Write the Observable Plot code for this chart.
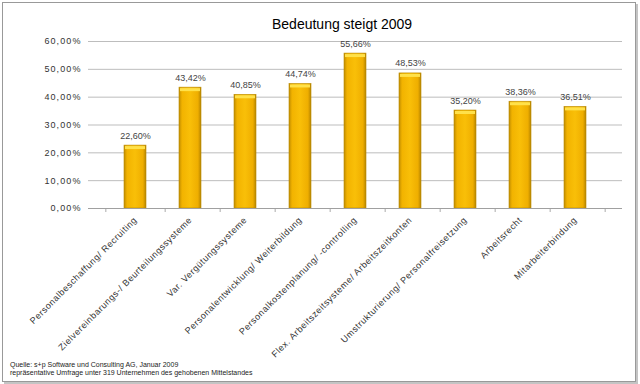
<!DOCTYPE html>
<html><head><meta charset="utf-8">
<script src="https://cdn.jsdelivr.net/npm/d3@7"></script>
<script src="https://cdn.jsdelivr.net/npm/@observablehq/plot@0.6"></script>
<style>
html,body{margin:0;padding:0;background:#fff;}
#wrap{position:relative;width:640px;height:384px;overflow:hidden;font-family:"Liberation Sans",Arial,sans-serif;}
#frame{position:absolute;left:2px;top:2px;width:632px;height:378px;border:1px solid #999;box-shadow:2px 2px 0 #c4c4c4;}
#title{position:absolute;left:272px;top:16px;font-size:14px;color:#000;white-space:nowrap;}
#cap{position:absolute;left:10px;top:361px;font-size:7px;line-height:8px;color:#222;}
#chart{position:absolute;left:0;top:0;}
g[aria-label="x-axis tick label"] text{letter-spacing:0.55px;}
g[aria-label="y-axis tick label"] text{letter-spacing:1.1px;}
</style></head><body>
<div id="wrap">
<div id="frame"></div>
<div id="chart"></div>
<div id="title">Bedeutung steigt 2009</div>
<div id="cap">Quelle: s+p Software und Consulting AG, Januar 2009<br>repräsentative Umfrage unter 319 Unternehmen des gehobenen Mittelstandes</div>
</div>
<script>
const categories = [
  "Personalbeschaffung/ Recruiting",
  "Zielvereinbarungs-/ Beurteilungssysteme",
  "Var. Vergütungssysteme",
  "Personalentwicklung/ Weiterbildung",
  "Personalkostenplanung/ -controlling",
  "Flex. Arbeitszeitsysteme/ Arbeitszeitkonten",
  "Umstrukturierung/ Personalfreisetzung",
  "Arbeitsrecht",
  "Mitarbeiterbindung"
];
const values = [0.2260, 0.4342, 0.4085, 0.4474, 0.5566, 0.4853, 0.3520, 0.3836, 0.3651];
const yTicks = [0, 0.1, 0.2, 0.3, 0.4, 0.5, 0.6];

const data = categories.map((c, i) => ({cat: c, v: values[i]}));
const pct = v => (v * 100).toFixed(2).replace(".", ",") + "%";

const W = 640, H = 384, mL = 88, mR = 18, mT = 41, mB = 176;
const step = (W - mL - mR) / categories.length;

const chart = Plot.plot({
  width: W, height: H,
  marginLeft: mL, marginRight: mR, marginTop: mT, marginBottom: mB,
  style: {fontFamily: "'Liberation Sans', Arial, sans-serif", fontSize: "9px", color: "#333", background: "transparent"},
  x: {domain: categories, padding: 0.6, align: 0.5, label: null, tickSize: 0, tickPadding: 10, tickRotate: -45},
  y: {domain: [0, 0.6], ticks: yTicks, tickFormat: pct, label: null, tickSize: 0, tickPadding: 7},
  marks: [
    Plot.gridY(yTicks, {stroke: "#bdbdbd", strokeOpacity: 1}),
    Plot.ruleX(categories, {x: d => d, y1: 0, y2: 0, dx: step / 2, stroke: "#aaa", insetBottom: -4}),
    Plot.ruleX(categories.slice(0, 1), {x: d => d, dx: -step / 2, y1: 0, y2: 0, stroke: "#aaa", insetBottom: -4}),
    Plot.barY(data, {x: "cat", y: "v", fill: "url(#barGrad)", stroke: "#b88a00", strokeWidth: 0.6}),
    Plot.tickY(data, {x: "cat", y: "v", stroke: "#ffe14a", strokeWidth: 3, dy: 2, inset: 1}),
    Plot.ruleY([0], {stroke: "#a0a0a0"}),
    Plot.text(data, {x: "cat", y: "v", text: d => pct(d.v), dy: -7, textAnchor: "middle", lineAnchor: "bottom", fill: "#444", fontSize: 9})
  ]
});

const defs = document.createElementNS("http://www.w3.org/2000/svg", "defs");
defs.innerHTML = `<linearGradient id="barGrad" x1="0" x2="1" y1="0" y2="0">
  <stop offset="0" stop-color="#c08c00"/>
  <stop offset="0.14" stop-color="#f2b300"/>
  <stop offset="0.5" stop-color="#f9bf08"/>
  <stop offset="0.86" stop-color="#efae00"/>
  <stop offset="1" stop-color="#b58400"/>
</linearGradient>`;
chart.insertBefore(defs, chart.firstChild);
document.getElementById("chart").appendChild(chart);
</script>
</body></html>
